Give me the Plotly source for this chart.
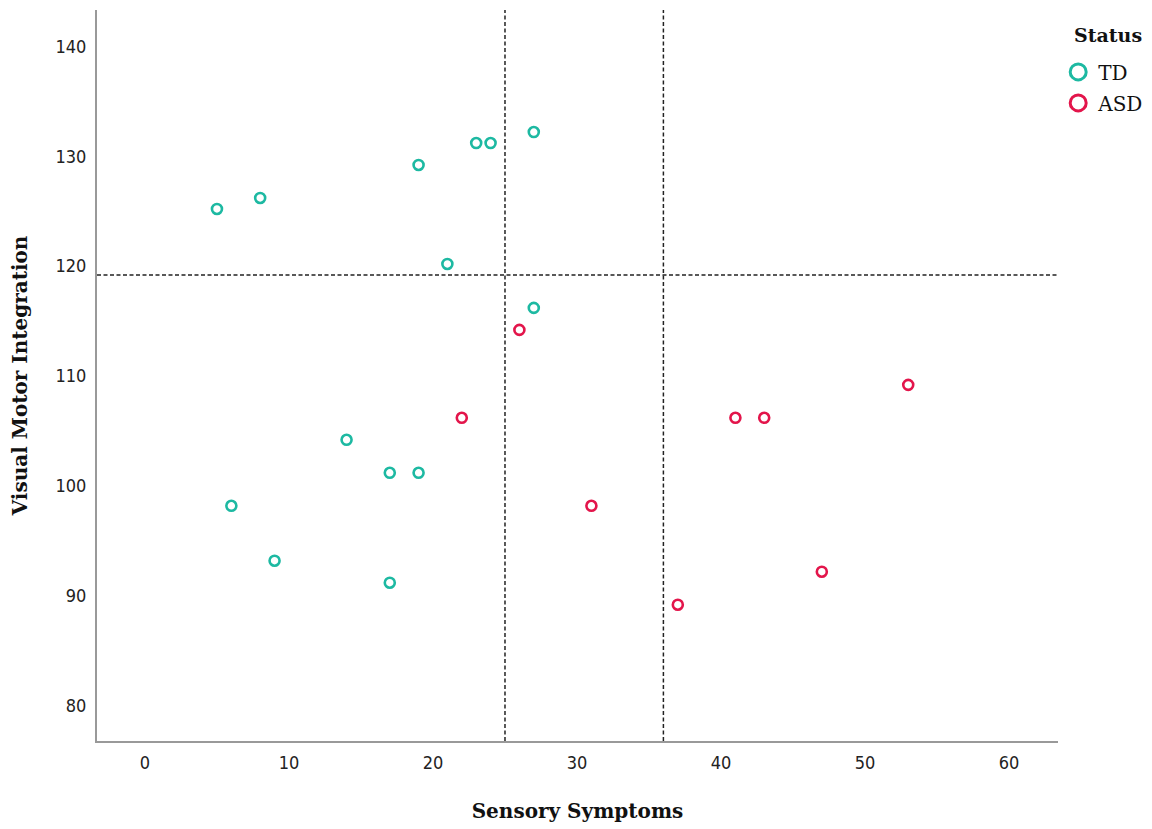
import plotly.graph_objects as go

td_x = [5, 8, 19, 23, 24, 27, 21, 27, 14, 17, 19, 6, 9, 17]
td_y = [125.2, 126.2, 129.2, 131.2, 131.2, 132.2, 120.2, 116.2, 104.2, 101.2, 101.2, 98.2, 93.2, 91.2]
asd_x = [26, 22, 31, 37, 41, 43, 47, 53]
asd_y = [114.2, 106.2, 98.2, 89.2, 106.2, 106.2, 92.2, 109.2]
vlines = [25, 36]
hlines = [119.2]
x_ticks = [0, 10, 20, 30, 40, 50, 60]
y_ticks = [80, 90, 100, 110, 120, 130, 140]

TEAL = "#1DB9A2"
RED = "#E3154B"
SERIF = "DejaVu Serif, Liberation Serif, serif"
TICKFONT = "Liberation Sans Narrow, DejaVu Sans Condensed, Arial Narrow, sans-serif"

fig = go.Figure()
fig.add_trace(go.Scatter(x=td_x, y=td_y, mode="markers", name="TD", showlegend=False,
                         marker=dict(symbol="circle-open", size=10, color=TEAL,
                                     line=dict(width=2.6, color=TEAL))))
fig.add_trace(go.Scatter(x=asd_x, y=asd_y, mode="markers", name="ASD", showlegend=False,
                         marker=dict(symbol="circle-open", size=10, color=RED,
                                     line=dict(width=2.6, color=RED))))
# legend entries with larger symbols
for name, col in [("TD", TEAL), ("ASD", RED)]:
    fig.add_trace(go.Scatter(x=[None], y=[None], mode="markers", name=name, legendgroup=name,
                             marker=dict(symbol="circle-open", size=20, color=col,
                                         line=dict(width=3, color=col))))

for v in vlines:
    fig.add_shape(type="line", xref="x", yref="paper", x0=v, x1=v, y0=0, y1=1,
                  line=dict(color="#222", width=1.5, dash="4px,2.5px"))
for h in hlines:
    fig.add_shape(type="line", xref="paper", yref="y", x0=0, x1=1, y0=h, y1=h,
                  line=dict(color="#222", width=1.5, dash="4px,2.5px"))

fig.add_annotation(text="<b>Status</b>", xref="paper", yref="paper", x=1.052, y=0.966,
                   xanchor="center", yanchor="middle", showarrow=False,
                   font=dict(family=SERIF, size=19, color="#111"))

fig.update_layout(
    width=1152, height=829,
    margin=dict(l=89, r=102, t=2, b=96),
    plot_bgcolor="white", paper_bgcolor="white",
    showlegend=True,
    legend=dict(
        font=dict(family=SERIF, size=20, color="#111"),
        x=1.0002, y=0.942, xanchor="left", yanchor="top",
        itemsizing="trace", tracegroupgap=2, itemwidth=30,
        bgcolor="rgba(0,0,0,0)",
    ),
    xaxis=dict(
        range=[-3.33, 63.4], tickvals=x_ticks, showgrid=False, zeroline=False,
        showline=True, linecolor="#999", linewidth=2, ticks="", ticklen=0,
        ticklabelstandoff=4,
        tickfont=dict(family=TICKFONT, size=18, color="#222"),
        title=dict(text="<b>Sensory Symptoms</b>", standoff=32,
                   font=dict(family=SERIF, size=20, color="#111")),
    ),
    yaxis=dict(
        range=[76.8, 143.3], tickvals=y_ticks, showgrid=False, zeroline=False,
        showline=True, linecolor="#999", linewidth=2, ticks="", ticklen=0,
        ticklabelstandoff=5,
        tickfont=dict(family=TICKFONT, size=18, color="#222"),
        title=dict(text="<b>Visual Motor Integration</b>", standoff=31,
                   font=dict(family=SERIF, size=20, color="#111")),
    ),
)

fig.write_html("out.html")
